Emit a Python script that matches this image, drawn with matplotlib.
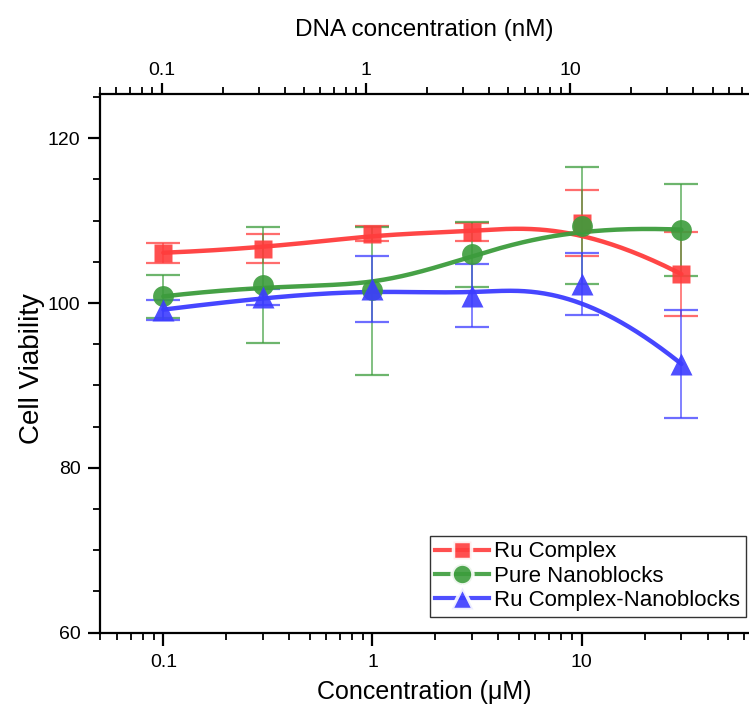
import numpy as np
import matplotlib
matplotlib.use("Agg")
import matplotlib.pyplot as plt
from matplotlib.ticker import FixedLocator, FixedFormatter, LogLocator, NullFormatter, MultipleLocator

plt.rcParams['font.family'] = ['Liberation Sans', 'DejaVu Sans']

# ---- data ----
conc = [0.1, 0.3, 1, 3, 10, 30]
ru_complex = [106.1, 106.6, 108.4, 108.6, 109.7, 103.5]
ru_complex_err = [1.2, 1.8, 0.9, 1.1, 4.0, 5.1]
pure_nano = [100.8, 102.2, 101.6, 105.9, 109.4, 108.9]
pure_nano_err_low = [2.6, 7.0, 10.3, 3.9, 7.1, 5.6]
pure_nano_err_high = [2.6, 7.0, 7.6, 3.9, 7.1, 5.6]
ru_nano = [99.2, 100.7, 101.7, 100.9, 102.3, 92.6]
ru_nano_err = [1.2, 1.0, 4.0, 3.8, 3.8, 6.6]
series_names = ["Ru Complex", "Pure Nanoblocks", "Ru Complex-Nanoblocks"]
x_ticklabels = ["0.1", "1", "10"]
top_ticklabels = ["0.1", "1", "10"]


def bspline(xs, ys, n=300):
    """clamped uniform cubic B-spline with data as control points (log-x space)"""
    P = np.column_stack([np.log10(xs), ys])
    m = len(P)
    k = 3
    knots = np.concatenate([[0] * k, np.arange(0, m - k + 1), [m - k] * k]).astype(float)
    t = np.linspace(0, m - k, n)
    t[-1] -= 1e-9

    def N(i, p, tt):
        if p == 0:
            return ((knots[i] <= tt) & (tt < knots[i + 1])).astype(float)
        a = np.zeros_like(tt)
        d1 = knots[i + p] - knots[i]
        d2 = knots[i + p + 1] - knots[i + 1]
        if d1 > 0:
            a += (tt - knots[i]) / d1 * N(i, p - 1, tt)
        if d2 > 0:
            a += (knots[i + p + 1] - tt) / d2 * N(i + 1, p - 1, tt)
        return a

    C = np.zeros((n, 2))
    for i in range(m):
        C += N(i, k, t)[:, None] * P[i]
    return 10 ** C[:, 0], C[:, 1]


fig = plt.figure(figsize=(7.49, 7.09), dpi=100)
ax = fig.add_axes([100 / 749, (709 - 632.7) / 709, 649 / 749, (632.7 - 94.5) / 709])

styles = [
    (ru_complex, [ru_complex_err, ru_complex_err], '#ff3c3c', 's', 13),
    (pure_nano, [pure_nano_err_low, pure_nano_err_high], '#3c9c3c', 'o', 15),
    (ru_nano, [ru_nano_err, ru_nano_err], '#3c3cff', '^', 16),
]
handles = []
for (vals, errs, col, mk, ms), name in zip(styles, series_names):
    ax.errorbar(conc, vals, yerr=errs, fmt='none', ecolor=col, elinewidth=1.2,
                capsize=12, capthick=1.6, alpha=0.75, zorder=2)
    sx, sy = bspline(conc, vals)
    ax.plot(sx, sy, color=col, lw=3.2, alpha=0.95, zorder=3, solid_capstyle='round')
    ax.plot(conc, vals, ls='none', marker=mk, ms=ms, mfc=col, mec='none', alpha=0.9, zorder=4)
    h, = ax.plot([], [], color=col, lw=3.0, marker=mk, ms=ms, mfc=col, mec='white',
                 mew=2.5, alpha=0.9)
    handles.append(h)

ax.set_xscale('log')
ax.set_xlim(0.0498, 63.1)
ax.set_ylim(60, 125.3)
ax.xaxis.set_major_locator(FixedLocator([0.1, 1, 10]))
ax.xaxis.set_major_formatter(FixedFormatter(x_ticklabels))
ax.xaxis.set_minor_locator(LogLocator(base=10, subs=np.arange(2, 10)))
ax.xaxis.set_minor_formatter(NullFormatter())
ax.yaxis.set_major_locator(MultipleLocator(20))
ax.yaxis.set_minor_locator(MultipleLocator(5))

for s in ['right', 'top']:
    ax.spines[s].set_visible(False)
for s in ['left', 'bottom']:
    ax.spines[s].set_linewidth(1.6)

ax.tick_params(axis='both', which='major', direction='out', length=9, width=1.6,
               labelsize=14, pad=5)
ax.tick_params(axis='both', which='minor', direction='out', length=5, width=1.3)
ax.tick_params(axis='x', which='major', pad=6)

ax.set_xlabel('Concentration (\u03bcM)', fontsize=18, labelpad=7)
ax.set_ylabel('Cell Viability', fontsize=20)
ax.yaxis.set_label_coords(-0.084, 0.49)

# top axis
ax2 = ax.twiny()
ax2.set_xscale('log')
ax2.set_xlim(0.0499, 75.4)
ax2.xaxis.set_major_locator(FixedLocator([0.1, 1, 10]))
ax2.xaxis.set_major_formatter(FixedFormatter(top_ticklabels))
ax2.xaxis.set_minor_locator(LogLocator(base=10, subs=np.arange(2, 10)))
ax2.xaxis.set_minor_formatter(NullFormatter())
for s in ['right', 'left', 'bottom']:
    ax2.spines[s].set_visible(False)
ax2.spines['top'].set_linewidth(1.6)
ax2.tick_params(axis='x', which='major', direction='out', length=8, width=1.6,
                labelsize=14, pad=3)
ax2.tick_params(axis='x', which='minor', direction='out', length=5, width=1.3)
ax2.set_xlabel('DNA concentration (nM)', fontsize=17.5, labelpad=19)

leg = ax.legend(handles, series_names, loc='lower right', bbox_to_anchor=(0.995, 0.03),
                fontsize=16, frameon=True, fancybox=False, edgecolor='black',
                handlelength=2.4, handletextpad=0.25, borderpad=0.25, labelspacing=0.15,
                borderaxespad=0)
leg.get_frame().set_linewidth(1.0)

fig.savefig('out.png', dpi=100)
